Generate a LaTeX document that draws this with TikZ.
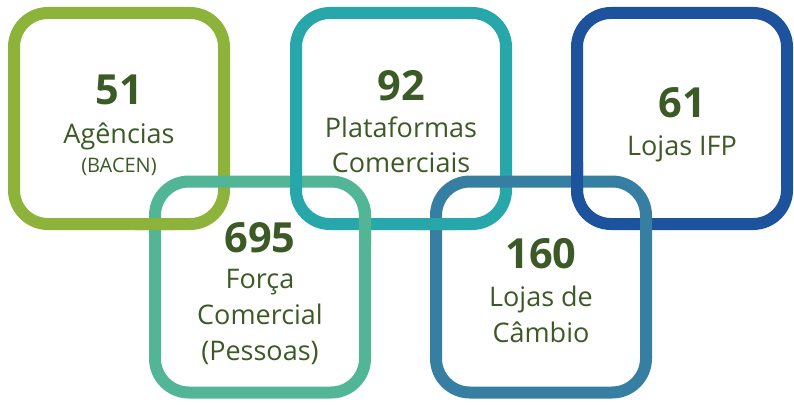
\documentclass[tikz,border=0pt]{standalone}
\usepackage{fontspec}
\setmainfont{Open Sans}
\definecolor{cgreen}{HTML}{8DB33A}
\definecolor{cmint}{HTML}{52B596}
\definecolor{cteal}{HTML}{28A7AB}
\definecolor{cblue}{HTML}{1D539C}
\definecolor{csteel}{HTML}{367FA3}
\definecolor{ctext}{HTML}{3B5A26}
\tikzset{
  ring/.style={draw=#1, line width=12pt, rounded corners=34pt, minimum width=210pt, minimum height=211pt, outer sep=0pt, inner sep=0pt, fill=none},
  ringpath/.style={draw=#1, line width=12pt, rounded corners=34pt},
  num/.style={anchor=base, text=ctext, font=\fontsize{41.5}{41.5}\selectfont\bfseries, inner sep=0pt},
  lab/.style={anchor=base, text=ctext, font=\fontsize{27}{27}\selectfont, inner sep=0pt},
  small/.style={anchor=base, text=ctext, font=\fontsize{20}{20}\selectfont, inner sep=0pt}
}
\begin{document}
\begin{tikzpicture}[x=1pt,y=-1pt]
\useasboundingbox (0,0) rectangle (794,404);
% boxes
\node[ring=cgreen] (b1) at (119,118.5) {};
\node[ring=cmint] (b2) at (260,287) {};
\node[ring=cteal] (b3) at (401,118.5) {};
\node[ring=cblue] (b4) at (682,118.5) {};
\node[ring=csteel] (b5) at (541,287) {};
% interlocks
\begin{scope}
\clip (135,204) rectangle (175,244);
\draw[ringpath=cgreen] (b1.south west) rectangle (b1.north east);
\end{scope}
\begin{scope}
\clip (345,204) rectangle (385,244);
\draw[ringpath=cmint] (b2.south west) rectangle (b2.north east);
\end{scope}
\begin{scope}
\clip (416,204) rectangle (456,244);
\draw[ringpath=cteal] (b3.south west) rectangle (b3.north east);
\end{scope}
\begin{scope}
\clip (557,162) rectangle (597,202);
\draw[ringpath=cblue] (b4.south west) rectangle (b4.north east);
\end{scope}
% texts
\node[num] (n1) at (119,104) {51};
\node[lab] (l1a) at (119,143) {Agências};
\node[small] (l1b) at (119,172) {(BACEN)};

\node[num] (n2) at (260,252) {695};
\node[lab] (l2a) at (260,288) {Força};
\node[lab] (l2b) at (260,324) {Comercial};
\node[lab] (l2c) at (260,360) {(Pessoas)};

\node[num] (n3) at (401,100) {92};
\node[lab] (l3a) at (401,137) {Plataformas};
\node[lab] (l3b) at (401,172) {Comerciais};

\node[num] (n4) at (682,117) {61};
\node[lab] (l4a) at (682,155) {Lojas IFP};

\node[num] (n5) at (541,268) {160};
\node[lab] (l5a) at (541,306) {Lojas de};
\node[lab] (l5b) at (541,342) {Câmbio};
\end{tikzpicture}
\end{document}
